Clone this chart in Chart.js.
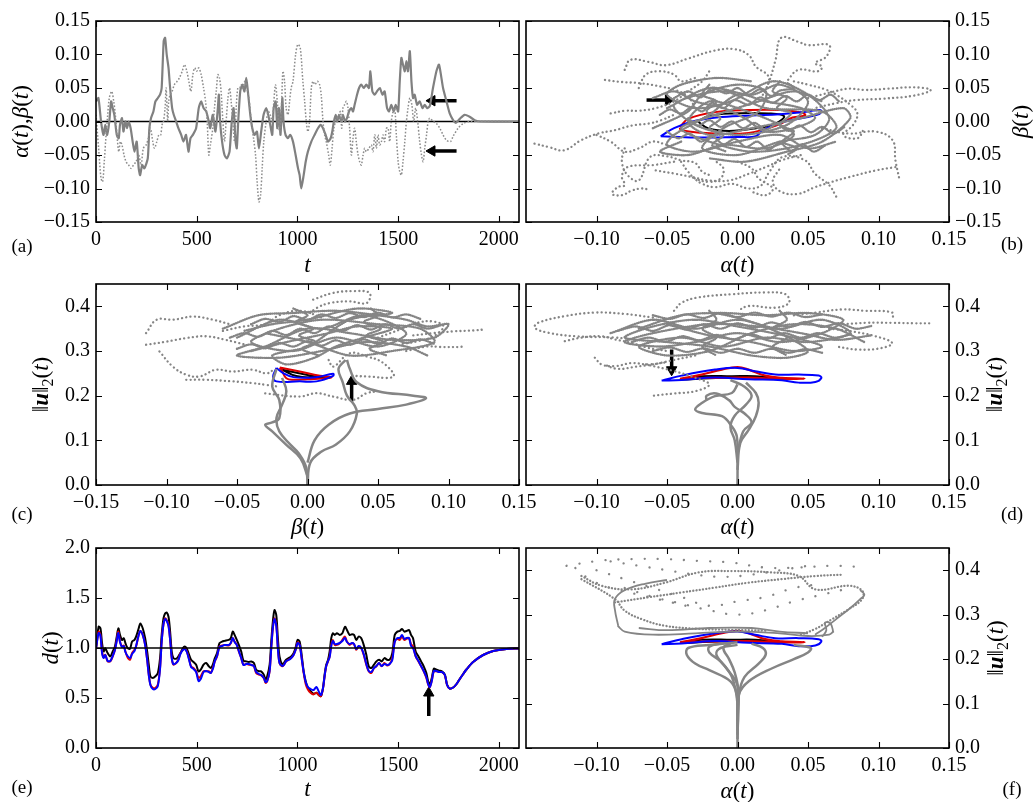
<!DOCTYPE html>
<html>
<head>
<meta charset="utf-8">
<script src="https://cdn.jsdelivr.net/npm/chart.js@4.4.1/dist/chart.umd.min.js"></script>
<style>
  html, body { margin: 0; padding: 0; background: #fff; }
  #wrap { position: relative; width: 1036px; height: 802px; }
  canvas { position: absolute; left: 0; top: 0; }
</style>
</head>
<body>
<div id="wrap">
  <canvas id="pa" width="1036" height="802"></canvas>
  <canvas id="pb" width="1036" height="802"></canvas>
  <canvas id="pc" width="1036" height="802"></canvas>
  <canvas id="pd" width="1036" height="802"></canvas>
  <canvas id="pe" width="1036" height="802"></canvas>
  <canvas id="pf" width="1036" height="802"></canvas>
</div>
<script>
// ---- tick values ----
const tTicks = [0, 500, 1000, 1500, 2000];
const abTicks = [-0.15, -0.10, -0.05, 0, 0.05, 0.10, 0.15];
const abTicksRight = [-0.10, -0.05, 0, 0.05, 0.10, 0.15];
const normTicks = [0, 0.1, 0.2, 0.3, 0.4];
const dTicks = [0, 0.5, 1.0, 1.5, 2.0];

// ---- (a) alpha(t), beta(t) ----
const tAlpha = [0,12,25,37,46,55,66,75,83,91,103,113,119,129,136,146,154,162,172,182,191,202,212,219,229,240,257,265,273,285,295,307,318,326,336,343,351,360,368,378,386,398,409,423,434,447,459,469,481,497,510,522,534,547,560,567,580,593,605,610,616,626,638,650,663,674,683,693,699,706,716,726,737,746,754,766,776,787,799,809,820,832,845,855,865,875,882,892,900,908,916,925,931,941,953,964,978,991,1003,1011,1019,1031,1041,1052,1069,1085,1102,1115,1127,1140,1152,1165,1173,1181,1190,1198,1206,1218,1226,1236,1246,1256,1268,1276,1284,1296,1306,1317,1329,1342,1355,1362,1372,1384,1395,1409,1422,1433,1445,1455,1466,1478,1488,1500,1508,1516,1524,1533,1541,1549,1558,1566,1574,1582,1594,1607,1621,1632,1644,1657,1673,1690,1703,1723,1740,1756,1773,1786,1806,1830,1855,1880,1910,2100];
const alphaVals = [0.03,0.035,0.0,-0.02,-0.005,-0.02,0.0,0.03,0.02,0.01,-0.02,-0.025,-0.005,0.005,-0.015,0.0,-0.01,0.0,-0.01,-0.03,-0.045,-0.03,-0.07,-0.08,-0.065,-0.07,-0.055,-0.01,0.005,0.015,0.03,0.035,0.04,0.05,0.12,0.125,0.1,0.08,0.05,0.02,0.01,0.0,-0.01,-0.02,-0.03,-0.02,-0.045,-0.025,-0.02,-0.01,0.02,0.03,0.02,0.015,0.0,-0.01,0.01,-0.015,0.02,0.04,0.0,-0.03,-0.05,-0.055,-0.045,0.0,0.02,-0.03,-0.04,0.0,0.045,0.055,0.045,0.065,0.045,0.01,-0.01,-0.02,-0.015,-0.04,-0.015,0.01,0.02,0.01,-0.005,-0.02,0.02,0.03,-0.01,0.02,-0.02,0.035,0.0,-0.02,-0.025,-0.02,-0.03,-0.05,-0.07,-0.08,-0.1,-0.08,-0.06,-0.045,-0.03,-0.02,-0.01,-0.005,-0.01,-0.02,-0.03,-0.025,-0.015,0.0,0.01,0.0,0.01,0.0,0.01,0.0,0.005,0.015,0.02,0.015,0.025,0.04,0.05,0.055,0.05,0.055,0.05,0.075,0.045,0.04,0.045,0.05,0.04,0.045,0.02,0.015,0.025,0.015,0.025,0.015,0.06,0.095,0.085,0.075,0.09,0.075,0.105,0.06,0.035,0.04,0.025,0.03,0.02,0.025,0.02,0.023,0.05,0.075,0.085,0.05,0.03,0.012,0.002,-0.002,0.004,0.01,0.007,0.002,0.0,0.0];
const tBeta = [0,13,25,33,41,50,58,66,78,88,96,104,113,121,129,139,149,162,174,186,199,212,224,235,249,260,270,282,290,302,312,321,328,335,343,348,356,361,368,378,389,403,414,428,439,451,461,471,481,490,500,510,522,534,544,552,560,568,580,588,597,605,613,621,630,638,646,655,663,671,679,688,696,704,713,721,729,739,749,759,771,782,792,800,809,817,825,833,845,855,865,875,883,891,900,911,921,928,936,944,953,961,969,978,991,1002,1014,1027,1036,1044,1052,1060,1069,1077,1087,1099,1110,1118,1127,1135,1143,1155,1163,1172,1181,1190,1198,1206,1213,1220,1226,1234,1243,1251,1259,1268,1276,1284,1292,1301,1309,1317,1326,1334,1342,1355,1367,1375,1384,1392,1400,1408,1417,1425,1433,1442,1450,1458,1466,1475,1483,1491,1500,1508,1516,1524,1533,1541,1549,1558,1568,1577,1587,1597,1607,1616,1624,1632,1641,1649,1657,1674,1690,1707,1723,1740,1760,1773,1798,1823,1856,2100];
const betaVals = [0.01,-0.04,-0.085,-0.09,-0.06,-0.02,0.01,0.035,0.045,0.03,0.01,-0.02,-0.045,-0.03,-0.035,-0.05,-0.06,-0.065,-0.07,-0.065,-0.06,-0.05,-0.065,-0.04,-0.035,-0.025,-0.01,-0.03,-0.04,-0.03,-0.02,-0.02,-0.005,0.0,0.02,0.05,0.0,0.03,0.04,0.045,0.055,0.06,0.065,0.075,0.085,0.075,0.06,0.045,0.07,0.08,0.075,0.08,0.07,0.05,0.03,0.0,-0.05,-0.035,-0.01,0.02,0.045,0.07,0.065,0.045,0.0,-0.03,0.0,0.035,0.05,0.03,0.0,-0.03,0.02,0.05,0.05,0.055,0.05,0.06,0.05,0.035,0.0,-0.025,-0.05,-0.09,-0.12,-0.11,-0.07,-0.03,0.0,0.015,0.01,0.0,0.03,0.055,0.03,-0.015,0.025,0.075,0.06,0.02,0.01,0.03,0.05,0.06,0.1,0.115,0.11,0.06,0.03,0.0,-0.015,0.0,0.05,0.06,0.055,0.06,0.055,0.04,0.0,-0.02,-0.03,-0.05,-0.065,-0.04,-0.01,0.0,0.005,0.01,0.015,-0.01,0.02,0.025,0.03,0.02,-0.01,-0.05,-0.025,-0.01,-0.03,-0.05,-0.06,-0.065,-0.05,-0.04,-0.045,-0.04,-0.035,-0.045,-0.02,-0.04,-0.02,-0.035,-0.03,-0.02,-0.03,-0.01,-0.01,-0.03,0.0,0.015,0.02,-0.02,-0.06,-0.075,-0.08,-0.06,-0.03,0.0,0.02,0.035,0.025,0.0,0.02,0.0,-0.03,-0.05,-0.06,-0.04,-0.02,0.0,0.005,0.0,-0.003,-0.01,-0.02,-0.028,-0.03,-0.022,-0.01,-0.003,0.0,0.0];
const aArrows = [[[1790, 0.031], [1668, 0.031]], [[1790, -0.044], [1668, -0.044]]];

// ---- (e) d(t) ----
const tD = [0,13,22,30,38,46,58,71,83,94,103,111,119,129,138,146,157,169,179,191,199,212,220,232,244,254,262,270,282,295,307,318,326,335,343,351,360,368,376,384,398,409,419,431,441,451,461,472,484,497,509,520,534,547,560,570,580,590,601,613,626,638,659,669,679,688,699,709,721,732,746,759,771,784,795,809,820,833,842,850,862,870,878,886,895,903,911,925,933,944,956,969,981,991,1001,1011,1022,1031,1041,1052,1065,1080,1094,1107,1117,1127,1135,1143,1152,1160,1168,1176,1185,1196,1210,1223,1236,1246,1259,1271,1281,1292,1304,1317,1329,1342,1354,1367,1380,1392,1405,1418,1432,1445,1458,1471,1483,1496,1508,1519,1531,1541,1554,1564,1574,1587,1601,1614,1627,1640,1649,1657,1667,1677,1690,1703,1717,1732,1743,1756,1773,1790,1806,1823,1839,1872,1922,1972,2038,2100];
const dBlue = [0.99,1.15,1.12,0.95,0.90,0.93,0.87,0.87,0.92,0.98,1.07,1.15,1.06,1.01,1.02,0.96,0.92,0.90,0.94,0.97,1.02,1.13,1.17,1.13,1.03,0.88,0.73,0.63,0.59,0.59,0.62,0.79,1.06,1.24,1.29,1.27,1.22,1.08,0.90,0.84,0.85,0.88,0.94,0.98,0.99,0.96,0.89,0.81,0.79,0.76,0.67,0.69,0.76,0.77,0.76,0.75,0.79,0.87,0.92,1.01,1.02,1.03,1.03,1.05,1.10,1.06,1.03,0.97,0.90,0.83,0.84,0.84,0.83,0.82,0.76,0.74,0.73,0.70,0.66,0.67,0.77,1.00,1.20,1.29,1.22,0.99,0.85,0.82,0.83,0.87,0.88,0.90,0.93,0.98,1.05,1.03,0.88,0.76,0.66,0.61,0.59,0.58,0.61,0.56,0.53,0.60,0.72,0.82,0.87,0.91,1.02,1.07,1.04,1.04,1.05,1.07,1.10,1.06,1.04,1.05,1.04,0.99,1.02,1.00,0.94,0.84,0.77,0.76,0.80,0.82,0.85,0.82,0.84,0.83,0.84,0.88,1.06,1.10,1.10,1.13,1.09,1.10,1.10,1.02,1.00,0.92,0.87,0.82,0.77,0.71,0.64,0.61,0.67,0.77,0.77,0.76,0.76,0.73,0.63,0.595,0.605,0.64,0.69,0.74,0.785,0.86,0.93,0.97,0.99,0.995];
const dRed = [0.99,1.164,1.131,0.965,0.906,0.932,0.866,0.866,0.916,0.982,1.081,1.164,1.064,1.015,1.025,0.965,0.906,0.883,0.949,0.982,1.015,1.131,1.170,1.131,1.031,0.883,0.734,0.635,0.602,0.602,0.635,0.800,1.064,1.236,1.296,1.279,1.230,1.081,0.899,0.833,0.850,0.883,0.949,0.982,0.998,0.965,0.899,0.817,0.800,0.767,0.701,0.717,0.767,0.767,0.767,0.750,0.800,0.866,0.916,1.015,1.025,1.031,1.025,1.048,1.098,1.064,1.031,0.965,0.899,0.833,0.840,0.833,0.833,0.817,0.750,0.734,0.727,0.701,0.651,0.668,0.767,0.998,1.197,1.296,1.230,0.998,0.850,0.817,0.833,0.866,0.883,0.899,0.932,0.982,1.058,1.031,0.883,0.750,0.641,0.585,0.552,0.536,0.552,0.529,0.519,0.595,0.717,0.817,0.866,0.916,1.031,1.081,1.031,1.031,1.048,1.081,1.114,1.064,1.031,1.048,1.038,0.982,1.015,0.998,0.932,0.833,0.767,0.750,0.800,0.817,0.850,0.817,0.850,0.826,0.840,0.899,1.064,1.091,1.081,1.114,1.081,1.091,1.098,1.038,1.015,0.916,0.866,0.817,0.767,0.701,0.635,0.608,0.674,0.767,0.767,0.760,0.760,0.727,0.628,0.595,0.605,0.64,0.69,0.74,0.785,0.86,0.93,0.97,0.99,0.995];
const dBlack = [1.0,1.213,1.197,1.048,0.965,0.998,0.949,0.916,0.965,1.015,1.114,1.197,1.131,1.081,1.098,1.048,0.998,0.992,1.064,1.081,1.114,1.197,1.246,1.197,1.098,0.965,0.833,0.717,0.701,0.717,0.750,0.899,1.131,1.296,1.345,1.355,1.312,1.164,0.965,0.899,0.893,0.916,0.949,0.998,1.015,0.992,0.939,0.883,0.860,0.833,0.767,0.783,0.833,0.850,0.817,0.800,0.833,0.899,0.949,1.048,1.064,1.071,1.081,1.098,1.164,1.131,1.081,1.031,0.965,0.873,0.866,0.860,0.866,0.850,0.783,0.767,0.767,0.734,0.684,0.717,0.833,1.064,1.263,1.379,1.329,1.098,0.916,0.833,0.850,0.883,0.899,0.916,0.949,1.005,1.081,1.064,0.916,0.767,0.668,0.602,0.569,0.542,0.552,0.529,0.519,0.602,0.734,0.833,0.883,0.965,1.098,1.147,1.131,1.147,1.131,1.147,1.213,1.180,1.131,1.137,1.131,1.081,1.114,1.098,1.031,0.932,0.817,0.800,0.833,0.866,0.883,0.866,0.899,0.883,0.883,0.949,1.131,1.164,1.170,1.190,1.164,1.170,1.180,1.131,1.098,0.965,0.916,0.866,0.817,0.750,0.668,0.635,0.701,0.793,0.783,0.774,0.767,0.734,0.635,0.595,0.605,0.64,0.69,0.74,0.785,0.86,0.93,0.97,0.99,0.995];
const eArrow = [[1652, 0.32], [1652, 0.55]];

// ---- (b) alpha vs beta ----
const bDots = [
  [[-0.080,0.077],[-0.076,0.092],[-0.063,0.089],[-0.051,0.084],[-0.035,0.094],[-0.016,0.106],[-0.002,0.108],[0.008,0.099],[0.013,0.082],[0.022,0.067],[0.02,0.045]],
  [[0.018,0.04],[0.022,0.057],[0.027,0.092],[0.031,0.125],[0.043,0.119],[0.05,0.114],[0.065,0.114],[0.063,0.097],[0.055,0.087],[0.06,0.082],[0.057,0.075],[0.043,0.077],[0.035,0.06]],
  [[0.05,0.035],[0.067,0.044],[0.079,0.049],[0.091,0.047],[0.107,0.049],[0.126,0.051],[0.137,0.047],[0.126,0.039],[0.103,0.034],[0.084,0.032],[0.069,0.027],[0.055,0.02]],
  [[0.06,-0.01],[0.079,-0.018],[0.098,-0.015],[0.110,-0.028],[0.112,-0.058],[0.115,-0.088]],
  [[0.112,-0.068],[0.098,-0.073],[0.079,-0.083],[0.067,-0.09],[0.055,-0.098],[0.043,-0.108],[0.031,-0.105],[0.025,-0.09],[0.03,-0.07]],
  [[0.07,-0.112],[0.065,-0.095],[0.055,-0.078],[0.048,-0.058],[0.032,-0.053],[0.022,-0.077],[0.017,-0.095],[0.008,-0.1],[-0.004,-0.093],[-0.016,-0.098],[-0.025,-0.093],[-0.032,-0.083]],
  [[-0.045,-0.06],[-0.06,-0.065],[-0.078,-0.068],[-0.082,-0.082],[-0.08,-0.095],[-0.085,-0.098],[-0.089,-0.108],[-0.082,-0.11],[-0.075,-0.103],[-0.068,-0.1],[-0.062,-0.102]],
  [[-0.144,-0.033],[-0.134,-0.038],[-0.123,-0.043],[-0.111,-0.028],[-0.099,-0.018],[-0.087,-0.013],[-0.075,-0.006],[-0.063,-0.003],[-0.054,0.002],[-0.045,0.01]],
  [[-0.094,0.062],[-0.082,0.059],[-0.068,0.057],[-0.054,0.052],[-0.044,0.047],[-0.035,0.037],[-0.03,0.02]],
  [[-0.09,0.012],[-0.08,0.016],[-0.07,0.016],[-0.058,0.02],[-0.045,0.03],[-0.035,0.045],[-0.025,0.06],[-0.02,0.075]],
  [[-0.08,-0.04],[-0.082,-0.06],[-0.078,-0.08],[-0.07,-0.088],[-0.062,-0.053],[-0.05,-0.052],[-0.04,-0.058],[-0.03,-0.062],[-0.025,-0.075],[-0.02,-0.08]],
  [[-0.058,-0.073],[-0.044,-0.078],[-0.032,-0.083],[-0.02,-0.088],[-0.006,-0.088],[0.008,-0.078],[0.02,-0.068],[0.031,-0.058],[0.045,-0.05]],
  [[0.04,0.06],[0.05,0.055],[0.062,0.048],[0.07,0.04],[0.08,0.025],[0.085,0.012],[0.082,-0.005],[0.075,-0.02],[0.085,-0.025],[0.09,-0.01]],
  [[-0.1,-0.02],[-0.09,-0.03],[-0.08,-0.045],[-0.07,-0.04],[-0.06,-0.03],[-0.05,-0.035]],
  [[-0.04,-0.06],[-0.035,-0.075],[-0.03,-0.085],[-0.02,-0.09],[-0.012,-0.085],[-0.01,-0.07],[-0.015,-0.06]],
  [[0.0,-0.06],[0.01,-0.07],[0.015,-0.085],[0.025,-0.1],[0.02,-0.11],[0.01,-0.105]],
  [[-0.07,0.05],[-0.065,0.07],[-0.055,0.075],[-0.045,0.07],[-0.04,0.06],[-0.03,0.065]]
];
const bCore = [
  [[-0.05,0.02],[-0.02,0.05],[0.01,0.04],[0.03,0.055],[0.05,0.03],[0.035,-0.005],[0.0,-0.02],[-0.03,-0.005],[-0.045,0.025],[-0.01,0.045],[0.02,0.02],[0.06,0.015],[0.07,-0.01],[0.045,-0.035],[0.01,-0.045],[-0.02,-0.03],[-0.04,-0.01],[-0.015,0.01],[0.015,0.03],[0.04,0.045],[0.06,0.03]],
  [[-0.06,-0.01],[-0.035,0.015],[-0.025,0.04],[0.0,0.055],[0.02,0.045],[0.015,0.015],[-0.01,-0.01],[-0.025,-0.04],[0.0,-0.05],[0.03,-0.03],[0.055,-0.02],[0.065,0.005],[0.05,0.04],[0.025,0.06],[-0.005,0.03],[-0.03,0.02],[-0.05,0.04],[-0.04,0.055],[-0.015,0.065],[0.01,0.06]],
  [[-0.04,-0.03],[-0.055,-0.045],[-0.035,-0.05],[-0.01,-0.035],[0.02,-0.04],[0.04,-0.02],[0.025,0.0],[0.0,0.02],[-0.02,0.03],[-0.035,0.0],[-0.02,-0.02],[0.01,-0.01],[0.045,0.005],[0.075,0.02],[0.08,0.005],[0.06,-0.03],[0.035,-0.045],[0.005,-0.06],[-0.02,-0.055]],
  [[-0.06,0.035],[-0.045,0.045],[-0.03,0.03],[-0.01,0.02],[0.005,0.005],[0.02,-0.015],[0.04,-0.01],[0.055,0.005],[0.045,0.02],[0.02,0.03],[0.0,0.04],[-0.02,0.01],[-0.045,-0.02],[-0.05,-0.035],[-0.03,-0.045],[0.0,-0.03],[0.03,-0.02],[0.05,-0.04],[0.07,-0.03]],
  [[-0.055,0.01],[-0.048,0.018],[-0.04,0.012],[-0.032,0.022],[-0.025,0.015],[-0.018,0.028],[-0.01,0.02],[-0.002,0.032],[0.008,0.025],[0.016,0.036],[0.025,0.028],[0.034,0.038],[0.042,0.03],[0.05,0.04],[0.058,0.032],[0.066,0.04],[0.072,0.03]],
  [[-0.05,-0.015],[-0.042,-0.025],[-0.034,-0.018],[-0.026,-0.03],[-0.018,-0.022],[-0.01,-0.034],[-0.002,-0.026],[0.006,-0.038],[0.014,-0.03],[0.022,-0.042],[0.03,-0.032],[0.038,-0.044],[0.046,-0.034],[0.054,-0.045],[0.062,-0.036]],
  [[-0.045,0.035],[-0.035,0.045],[-0.026,0.036],[-0.018,0.05],[-0.008,0.042],[0.0,0.05],[0.008,0.04],[0.016,0.048],[0.024,0.038],[0.03,0.046],[0.04,0.05],[0.035,0.058]],
  [[-0.035,0.005],[-0.028,-0.006],[-0.02,0.002],[-0.012,-0.008],[-0.004,0.0],[0.004,-0.01],[0.012,-0.002],[0.02,-0.012],[0.028,-0.004],[0.036,-0.014],[0.044,-0.006],[0.052,-0.016],[0.06,-0.008],[0.068,-0.018],[0.076,-0.008]],
  [[-0.02,0.055],[-0.025,0.04],[-0.015,0.03],[-0.022,0.015],[-0.012,0.005],[-0.02,-0.01],[-0.01,-0.02],[-0.018,-0.035],[-0.008,-0.045]],
  [[0.03,0.06],[0.025,0.045],[0.035,0.035],[0.028,0.02],[0.038,0.012],[0.03,-0.005],[0.04,-0.015],[0.032,-0.03],[0.042,-0.04],[0.035,-0.05]]
];
const bBlue = [[-0.0545,-0.022],[-0.045,-0.01],[-0.032,0.0],[-0.015,0.006],[0.01,0.009],[0.03,0.011],[0.05,0.015],[0.059,0.017],[0.058,0.011],[0.045,0.005],[0.03,-0.002],[0.018,-0.013],[0.013,-0.022],[0.0,-0.023],[-0.03,-0.024],[-0.0545,-0.022]];
const bRed = [[-0.041,-0.009],[-0.035,0.004],[-0.016,0.014],[0.008,0.017],[0.031,0.017],[0.046,0.013],[0.048,0.009],[0.039,0.006],[0.029,-0.005],[0.008,-0.017],[-0.016,-0.018],[-0.04,-0.013],[-0.041,-0.009]];
const bBlack = [[-0.028,0.0],[-0.021,0.008],[-0.004,0.012],[0.022,0.012],[0.033,0.008],[0.027,-0.003],[0.013,-0.010],[-0.006,-0.014],[-0.021,-0.010],[-0.028,0.0]];
const bArrow = [[-0.0645, 0.032], [-0.049, 0.032]];

// ---- (c) beta vs ||u|| ----
const cDots = [
  [[-0.1145,0.34],[-0.107,0.37],[-0.0955,0.37],[-0.081,0.377],[-0.067,0.37],[-0.055,0.36]],
  [[-0.1145,0.314],[-0.100,0.321],[-0.086,0.329],[-0.072,0.333],[-0.058,0.325],[-0.045,0.315]],
  [[-0.105,0.299],[-0.0955,0.265],[-0.086,0.247],[-0.0765,0.243],[-0.065,0.258],[-0.053,0.254],[-0.039,0.258],[-0.029,0.25],[-0.024,0.258]],
  [[-0.086,0.2355],[-0.072,0.2355],[-0.053,0.232],[-0.039,0.228],[-0.029,0.224],[-0.02,0.22]],
  [[0.004,0.415],[0.018,0.43],[0.0325,0.434],[0.044,0.43],[0.042,0.4075],[0.030,0.411],[0.016,0.4075],[0.0064,0.396],[0.0,0.38]],
  [[0.05,0.33],[0.0656,0.348],[0.0775,0.363],[0.0893,0.366],[0.0964,0.355],[0.0893,0.333],[0.0775,0.3215],[0.065,0.315]],
  [[0.075,0.335],[0.0893,0.34],[0.1036,0.344],[0.1178,0.346],[0.125,0.348]],
  [[0.07,0.3],[0.0846,0.31],[0.0941,0.309],[0.108,0.309],[0.11,0.31]],
  [[0.015,0.28],[0.0182,0.265],[0.0301,0.295],[0.0419,0.288],[0.0538,0.273],[0.0609,0.243],[0.0419,0.243],[0.03,0.245]],
  [[-0.03,0.205],[-0.0055,0.198],[0.0064,0.2056],[0.0182,0.198],[0.0325,0.1907],[0.0419,0.2056],[0.05,0.21]],
  [[-0.06,0.345],[-0.045,0.355],[-0.03,0.36],[-0.02,0.38],[-0.005,0.39],[0.01,0.375]]
];
const cCore = [
  [[-0.05,0.33],[-0.02,0.37],[0.01,0.35],[0.04,0.38],[0.07,0.34],[0.05,0.31],[0.02,0.33],[-0.01,0.3],[-0.04,0.32],[-0.02,0.35],[0.01,0.37],[0.05,0.36],[0.08,0.35],[0.09,0.32],[0.06,0.3],[0.03,0.29],[0.0,0.32],[-0.03,0.34]],
  [[-0.06,0.35],[-0.035,0.38],[-0.01,0.385],[0.02,0.39],[0.05,0.38],[0.07,0.37],[0.085,0.355],[0.1,0.36],[0.09,0.33],[0.06,0.325],[0.03,0.34],[0.0,0.35],[-0.03,0.31],[-0.05,0.29],[-0.02,0.285],[0.01,0.3],[0.04,0.32],[0.07,0.31],[0.085,0.29]],
  [[-0.04,0.3],[-0.015,0.32],[0.015,0.34],[0.035,0.355],[0.06,0.35],[0.04,0.33],[0.02,0.31],[0.005,0.285],[-0.015,0.27],[-0.025,0.29],[0.0,0.31],[0.03,0.37],[0.06,0.385],[0.035,0.395],[0.0,0.37],[-0.025,0.36],[-0.045,0.345]],
  [[-0.055,0.33],[-0.045,0.34],[-0.035,0.332],[-0.025,0.345],[-0.015,0.336],[-0.005,0.35],[0.005,0.34],[0.015,0.355],[0.025,0.345],[0.035,0.358],[0.045,0.348],[0.055,0.36],[0.065,0.35],[0.075,0.36],[0.085,0.35],[0.095,0.358]],
  [[-0.04,0.36],[-0.03,0.372],[-0.02,0.365],[-0.01,0.378],[0.0,0.37],[0.01,0.382],[0.02,0.374],[0.03,0.385],[0.04,0.376],[0.05,0.386],[0.06,0.375],[0.07,0.382],[0.08,0.372]],
  [[-0.05,0.305],[-0.04,0.315],[-0.03,0.306],[-0.02,0.318],[-0.01,0.31],[0.0,0.322],[0.01,0.312],[0.02,0.324],[0.03,0.314],[0.04,0.326],[0.05,0.316],[0.06,0.328],[0.07,0.318],[0.08,0.326],[0.09,0.316]],
  [[-0.01,0.395],[0.0,0.38],[-0.008,0.365],[0.004,0.35],[-0.006,0.335],[0.006,0.32],[-0.004,0.305],[0.008,0.29]],
  [[0.045,0.395],[0.05,0.38],[0.04,0.365],[0.052,0.35],[0.042,0.335],[0.054,0.32],[0.044,0.305],[0.056,0.29]]
];
const cLines = [
  [[0,0],[-0.001,0.04],[-0.006,0.07],[-0.012,0.09],[-0.02,0.12],[-0.022,0.15],[-0.018,0.18],[-0.015,0.21],[-0.018,0.24]],
  [[0,0.02],[-0.005,0.06],[-0.015,0.09],[-0.025,0.12],[-0.03,0.135],[-0.025,0.14],[-0.02,0.15],[-0.02,0.19],[-0.025,0.22],[-0.022,0.26]],
  [[0,0],[0.002,0.05],[0.01,0.075],[0.02,0.09],[0.03,0.12],[0.035,0.16],[0.033,0.18],[0.028,0.2],[0.025,0.23],[0.022,0.26],[0.027,0.28]],
  [[0,0.05],[0.005,0.1],[0.015,0.135],[0.03,0.16],[0.05,0.17],[0.07,0.18],[0.084,0.194],[0.075,0.2],[0.05,0.21],[0.035,0.23],[0.03,0.26],[0.028,0.28]]
];
const cBlue = [[-0.022,0.262],[-0.0244,0.243],[-0.022,0.232],[-0.0055,0.232],[0.0064,0.232],[0.0182,0.2445],[0.0182,0.249],[0.006,0.2415],[-0.01,0.2415],[-0.017,0.25],[-0.022,0.262]];
const cRed = [[-0.0197,0.263],[-0.0055,0.254],[0.0088,0.2445],[0.017,0.2415],[0.014,0.239],[0.0,0.237],[-0.01,0.2355],[-0.015,0.239],[-0.0185,0.258],[-0.0197,0.263]];
const cBlack = [[-0.018,0.258],[-0.006,0.25],[0.008,0.242],[0.015,0.24],[0.005,0.24],[-0.008,0.244],[-0.018,0.258]];
const cArrow = [[0.0313, 0.187], [0.0313, 0.232]];

// ---- (d) alpha vs ||u|| ----
const dDots = [
  [[-0.06,0.375],[-0.08,0.383],[-0.101,0.386],[-0.1225,0.378],[-0.1415,0.363],[-0.1438,0.352],[-0.1343,0.341],[-0.1154,0.333],[-0.087,0.33],[-0.07,0.325]],
  [[-0.1225,0.322],[-0.1107,0.33],[-0.0964,0.333],[-0.087,0.326],[-0.0751,0.318],[-0.0633,0.307],[-0.05,0.3]],
  [[-0.1012,0.285],[-0.0964,0.27],[-0.087,0.266],[-0.0751,0.273],[-0.0633,0.27],[-0.05,0.275]],
  [[-0.045,0.39],[-0.0396,0.408],[-0.0277,0.42],[-0.004,0.427],[0.0197,0.431],[0.0341,0.427],[0.0365,0.408],[0.027,0.397],[0.0078,0.4007],[0.0,0.39]],
  [[0.04,0.38],[0.0552,0.386],[0.0742,0.393],[0.0908,0.39],[0.1097,0.386],[0.11,0.37]],
  [[0.075,0.36],[0.0908,0.363],[0.1097,0.363],[0.1263,0.362],[0.137,0.362]],
  [[0.065,0.35],[0.0789,0.345],[0.0979,0.333],[0.1097,0.318],[0.1026,0.307],[0.086,0.303],[0.07,0.31]],
  [[-0.03,0.29],[-0.045,0.28],[-0.06,0.27],[-0.072,0.265],[-0.085,0.26],[-0.095,0.27]],
  [[-0.065,0.27],[-0.045,0.255],[-0.03,0.24],[-0.02,0.225],[-0.03,0.21],[-0.045,0.205],[-0.06,0.2]]
];
const dCore = [
  [[-0.09,0.34],[-0.06,0.37],[-0.03,0.35],[0.0,0.37],[0.03,0.35],[0.06,0.37],[0.08,0.34],[0.05,0.32],[0.02,0.33],[-0.01,0.31],[-0.04,0.33],[-0.07,0.31],[-0.05,0.29],[-0.02,0.3],[0.01,0.34],[0.04,0.36],[0.07,0.35],[0.09,0.32]],
  [[-0.07,0.35],[-0.04,0.38],[-0.01,0.385],[0.02,0.38],[0.05,0.385],[0.075,0.37],[0.06,0.34],[0.03,0.32],[0.0,0.34],[-0.03,0.32],[-0.055,0.31],[-0.08,0.32],[-0.06,0.34],[-0.02,0.36],[0.015,0.355],[0.045,0.34],[0.07,0.325],[0.095,0.335]],
  [[-0.05,0.36],[-0.02,0.335],[0.01,0.32],[0.04,0.3],[0.06,0.31],[0.04,0.33],[0.0,0.355],[-0.03,0.37],[-0.06,0.355],[-0.08,0.33],[-0.05,0.32],[-0.02,0.31],[0.01,0.29],[0.035,0.285],[0.05,0.3],[0.03,0.34],[0.005,0.37],[-0.015,0.385]],
  [[-0.085,0.345],[-0.072,0.355],[-0.06,0.345],[-0.048,0.358],[-0.036,0.348],[-0.024,0.36],[-0.012,0.35],[0.0,0.362],[0.012,0.352],[0.024,0.364],[0.036,0.354],[0.048,0.365],[0.06,0.354],[0.072,0.362],[0.084,0.35],[0.095,0.356]],
  [[-0.075,0.32],[-0.063,0.33],[-0.051,0.321],[-0.039,0.333],[-0.027,0.324],[-0.015,0.336],[-0.003,0.326],[0.009,0.338],[0.021,0.328],[0.033,0.34],[0.045,0.33],[0.057,0.34],[0.069,0.33],[0.081,0.338]],
  [[-0.06,0.38],[-0.048,0.372],[-0.036,0.382],[-0.024,0.374],[-0.012,0.385],[0.0,0.376],[0.012,0.386],[0.024,0.377],[0.036,0.386],[0.048,0.376],[0.06,0.382]],
  [[-0.06,0.3],[-0.048,0.308],[-0.036,0.298],[-0.024,0.306],[-0.012,0.296],[0.0,0.305],[0.012,0.296],[0.024,0.305],[0.036,0.296],[0.048,0.304],[0.06,0.296]],
  [[-0.02,0.39],[-0.015,0.37],[-0.025,0.35],[-0.015,0.33],[-0.025,0.31],[-0.015,0.29]],
  [[0.03,0.39],[0.035,0.37],[0.025,0.35],[0.035,0.33],[0.025,0.31],[0.035,0.29]]
];
const dLines = [
  [[0,0],[0,0.064],[-0.0005,0.109],[-0.004,0.131],[-0.011,0.154],[-0.025,0.161],[-0.03,0.169],[-0.025,0.184],[-0.016,0.199],[-0.004,0.206],[0.0,0.225]],
  [[0,0.034],[0.002,0.094],[0.008,0.124],[0.013,0.154],[0.015,0.184],[0.013,0.206],[0.006,0.229]],
  [[0,0.05],[-0.002,0.1],[-0.005,0.13],[-0.002,0.155],[0.006,0.18],[0.01,0.2],[0.005,0.22],[-0.005,0.235]],
  [[0,0.07],[0.004,0.12],[0.01,0.14],[0.005,0.16],[-0.002,0.175],[-0.006,0.19],[-0.015,0.205],[-0.022,0.2],[-0.022,0.19]]
];
const dLoopBlue = [[-0.0538,0.2337],[-0.0396,0.2449],[-0.0159,0.2584],[0.0,0.2622],[0.0126,0.2547],[0.0268,0.2472],[0.0434,0.2472],[0.0576,0.2449],[0.0595,0.2397],[0.0552,0.2307],[0.0434,0.2292],[0.0315,0.2345],[0.0078,0.2367],[-0.0159,0.2405],[-0.0396,0.2352],[-0.0538,0.2337]];
const dLoopRed = [[-0.0408,0.2375],[-0.0254,0.2472],[-0.0111,0.2584],[0.0,0.2637],[0.0078,0.2584],[0.0197,0.2449],[0.0315,0.2397],[0.0476,0.2382],[0.0315,0.2375],[0.0078,0.2405],[-0.0254,0.2395],[-0.0408,0.2375]];
const dLoopBlack = [[-0.0408,0.236],[-0.0254,0.2435],[-0.004,0.2435],[0.0126,0.2435],[0.0327,0.2375],[0.0126,0.241],[-0.0111,0.24],[-0.0408,0.236]];
const dArrow = [[-0.0467, 0.3034], [-0.0467, 0.258]];

// ---- (f) alpha vs ||u|| (second set) ----
const fSparse = [
  [[-0.1213,0.41],[-0.0988,0.421],[-0.0751,0.425],[-0.0514,0.425],[-0.0277,0.421],[-0.004,0.417],[0.0197,0.406],[0.0434,0.406],[0.0671,0.41],[0.0825,0.408]],
  [[-0.1,0.4],[-0.08,0.38],[-0.06,0.36],[-0.04,0.34],[-0.02,0.32],[0.0,0.33],[0.02,0.34],[0.04,0.36],[0.06,0.37]],
  [[-0.115,0.405],[-0.105,0.38],[-0.09,0.36],[-0.07,0.345],[-0.05,0.33],[-0.03,0.315]],
  [[-0.09,0.42],[-0.07,0.41],[-0.05,0.4],[-0.03,0.39],[-0.01,0.385],[0.01,0.39],[0.03,0.4],[0.05,0.41]],
  [[-0.08,0.36],[-0.06,0.34],[-0.04,0.325],[-0.02,0.31],[0.0,0.3],[0.02,0.31],[0.04,0.33],[0.06,0.345],[0.08,0.36]]
];
const fDots = [
  [[-0.1107,0.387],[-0.0964,0.365],[-0.0751,0.357],[-0.0514,0.372],[-0.0277,0.395],[-0.004,0.398],[0.0244,0.395],[0.0434,0.387],[0.0552,0.357],[0.0789,0.365],[0.0884,0.354],[0.0884,0.335],[0.0789,0.3125],[0.0671,0.29],[0.0552,0.268],[0.0434,0.253]],
  [[-0.1107,0.38],[-0.087,0.335],[-0.08,0.309],[-0.068,0.29],[-0.0514,0.275],[-0.0277,0.268],[-0.004,0.266],[0.0197,0.264]],
  [[-0.087,0.3275],[-0.0633,0.339],[-0.0396,0.35],[-0.0159,0.361],[0.0078,0.372],[0.0315,0.38],[0.0552,0.387],[0.075,0.39]]
];
const fBands = [
  [[-0.085,0.275],[-0.08,0.262],[-0.06,0.255],[-0.03,0.258],[0.0,0.262],[0.03,0.258],[0.05,0.252],[0.065,0.255],[0.068,0.262]],
  [[-0.0846,0.275],[-0.0869,0.31],[-0.087,0.335],[-0.08,0.355],[-0.065,0.37],[-0.05,0.378]],
  [[0.055,0.255],[0.062,0.27],[0.07,0.29],[0.08,0.315],[0.087,0.335],[0.09,0.345],[0.087,0.355]],
  [[0.06,0.25],[0.063,0.265],[0.062,0.282],[0.066,0.28],[0.068,0.26]],
  [[-0.07,0.27],[-0.05,0.265],[-0.02,0.27],[0.01,0.27],[0.03,0.262],[0.05,0.258]]
];
const fLines = [
  [[0,0],[0,0.08],[-0.0005,0.12],[-0.005,0.15],[-0.02,0.175],[-0.03,0.19],[-0.036,0.21],[-0.035,0.225],[-0.02,0.232],[0,0.238]],
  [[0,0.02],[0,0.1],[-0.004,0.16],[-0.012,0.195],[-0.02,0.215],[-0.02,0.228],[-0.01,0.236]],
  [[0,0.03],[0.0005,0.13],[-0.002,0.17],[-0.006,0.2],[-0.01,0.225],[-0.005,0.235]],
  [[0,0.04],[0.001,0.12],[0.005,0.16],[0.015,0.19],[0.02,0.21],[0.018,0.225],[0.01,0.235]],
  [[0,0.05],[0.001,0.12],[0.008,0.15],[0.025,0.18],[0.04,0.2],[0.05,0.215],[0.052,0.225],[0.04,0.232]],
  [[0,0.06],[0,0.14],[-0.008,0.18],[-0.015,0.21],[-0.012,0.225],[0,0.232]]
];

// ---------------------------------------------------------------
const GRAY = '#858585';
const SERIF = '"Liberation Serif", "DejaVu Serif", serif';
const P = arr => arr.map(([x, y]) => ({x, y}));
const series = (ts, vs) => ts.map((t, i) => ({x: t, y: vs[i]}));

const dotted = (arr, gap = 4.2, w = 2.3, tension = 0.4) => ({data: P(arr), showLine: true, borderColor: GRAY,
  borderWidth: w, borderDash: [0.1, gap], borderCapStyle: 'round', pointRadius: 0, tension});
const solid = (arr, color = GRAY, w = 2.5, tension = 0.4) => ({data: P(arr), showLine: true,
  borderColor: color, borderWidth: w, pointRadius: 0, tension});
const arrow = (arr, rot) => ({data: P(arr), showLine: true, borderColor: '#000', borderWidth: 3.5,
  pointRadius: [0, 6], pointStyle: 'triangle', pointRotation: rot, pointBackgroundColor: '#000',
  pointBorderColor: '#000', pointBorderWidth: 1, tension: 0});
const hline = (y, x0, x1, w = 1.6) => ({data: [{x: x0, y}, {x: x1, y}], showLine: true,
  borderColor: '#000', borderWidth: w, pointRadius: 0});

const fmt2 = v => (Math.abs(v) < 1e-9 ? 0 : v).toFixed(2).replace('-', '\u2212');
const fmt1 = v => v.toFixed(1);
const fmt0 = v => String(Math.round(v));

function axis(pos, min, max, ticks, fmt) {
  return {
    type: 'linear', position: pos, min, max,
    afterBuildTicks: s => { s.ticks = ticks.map(v => ({value: v})); },
    afterFit: s => {
      if (pos === 'bottom') s.height = 30;
      else s.width = pos === 'left' ? 96 : 87;
    },
    grid: {display: false, drawTicks: false},
    border: {display: false},
    ticks: {padding: 6, color: '#000', font: {family: SERIF, size: 20}, callback: fmt,
            maxRotation: 0, autoSkip: false}
  };
}

// rich text label: pieces of [text, style]
function drawRich(ctx, pieces, cx, cy, rot, size = 23) {
  const font = s => s === 'i' ? `italic ${size}px ${SERIF}` :
    s === 'bi' ? `italic bold ${size}px ${SERIF}` :
    s === 'sub' ? `${Math.round(size * 0.7)}px ${SERIF}` : `${size}px ${SERIF}`;
  ctx.save();
  ctx.translate(cx, cy);
  ctx.rotate(rot);
  ctx.textBaseline = 'middle';
  ctx.textAlign = 'left';
  ctx.fillStyle = '#000';
  let w = 0;
  pieces.forEach(([t, s]) => { ctx.font = font(s); w += ctx.measureText(t).width; });
  let px = -w / 2;
  pieces.forEach(([t, s]) => {
    ctx.font = font(s);
    ctx.fillText(t, px, s === 'sub' ? size * 0.28 : 0);
    px += ctx.measureText(t).width;
  });
  ctx.restore();
}

const L_T = [['t', 'i']];
const L_ALPHA = [['\u03b1', 'i'], ['(', ''], ['t', 'i'], [')', '']];
const L_BETA = [['\u03b2', 'i'], ['(', ''], ['t', 'i'], [')', '']];
const L_AB = [['\u03b1', 'i'], ['(', ''], ['t', 'i'], [')', ''], [',', ''], ['\u03b2', 'i'], ['(', ''], ['t', 'i'], [')', '']];
const L_NORM = [['\u2016', ''], ['u', 'bi'], ['\u2016', ''], ['2', 'sub'], ['(', ''], ['t', 'i'], [')', '']];
const L_D = [['d', 'i'], ['(', ''], ['t', 'i'], [')', '']];

const frame = {
  id: 'frame',
  afterDatasetsDraw(chart, args, o) {
    const {ctx, chartArea: a, scales: {x, y}} = chart;
    ctx.save();
    ctx.strokeStyle = '#000';
    ctx.lineWidth = 1.1;
    ctx.beginPath();
    x.ticks.forEach(t => {
      const p = Math.round(x.getPixelForValue(t.value)) + 0.5;
      ctx.moveTo(p, a.bottom); ctx.lineTo(p, a.bottom - 6);
      ctx.moveTo(p, a.top); ctx.lineTo(p, a.top + 6);
    });
    y.ticks.forEach(t => {
      const p = Math.round(y.getPixelForValue(t.value)) + 0.5;
      ctx.moveTo(a.left, p); ctx.lineTo(a.left + 6, p);
      ctx.moveTo(a.right, p); ctx.lineTo(a.right - 6, p);
    });
    ctx.stroke();
    ctx.lineWidth = 1.6;
    ctx.strokeRect(a.left, a.top, a.right - a.left, a.bottom - a.top);
    drawRich(ctx, o.xTitle, (a.left + a.right) / 2, o.xTitleY, 0);
    drawRich(ctx, o.yTitle, o.yTitleX, (a.top + a.bottom) / 2, -Math.PI / 2);
    ctx.font = `19px ${SERIF}`;
    ctx.fillStyle = '#000';
    ctx.textAlign = 'center';
    ctx.textBaseline = 'middle';
    ctx.fillText(o.letter, o.letterX, o.letterY);
    ctx.restore();
  }
};

function panel(id, pad, xs, ys, datasets, fr) {
  return new Chart(document.getElementById(id), {
    type: 'scatter',
    data: {datasets},
    options: {
      responsive: false, animation: false, devicePixelRatio: 1, events: [],
      layout: {padding: pad},
      plugins: {legend: {display: false}, tooltip: {enabled: false}, frame: fr},
      scales: {x: xs, y: ys}
    },
    plugins: [frame]
  });
}

const padL = (top, bottom) => ({left: 0, right: 517, top, bottom});
const padR = (top, bottom) => ({left: 526, right: 0, top, bottom});

// (a)
panel('pa', padL(21, 550),
  axis('bottom', 0, 2100, tTicks, fmt0), axis('left', -0.15, 0.15, abTicks, fmt2),
  [
    {data: series(tBeta, betaVals), showLine: true, borderColor: '#8c8c8c', borderWidth: 1.5,
     borderDash: [1.6, 1.8], pointRadius: 0, tension: 0.3},
    {data: series(tAlpha, alphaVals), showLine: true, borderColor: '#808080', borderWidth: 2.2,
     pointRadius: 0, tension: 0.2},
    hline(0, 0, 2100),
    arrow(aArrows[0], -90), arrow(aArrows[1], -90)
  ],
  {xTitle: L_T, xTitleY: 266, yTitle: L_AB, yTitleX: 22, letter: '(a)', letterX: 22, letterY: 247});

// (b)
panel('pb', padR(21, 550),
  axis('bottom', -0.15, 0.15, abTicksRight, fmt2), axis('right', -0.15, 0.15, abTicks, fmt2),
  [
    ...bDots.map(p => dotted(p)),
    ...bCore.map(p => dotted(p, 1.9, 2.4, 0.3)),
    solid(bBlue, '#0000ff', 2), solid(bRed, '#e00000', 2), solid(bBlack, '#000', 2),
    arrow(bArrow, 90)
  ],
  {xTitle: L_ALPHA, xTitleY: 266, yTitle: L_BETA, yTitleX: 1022, letter: '(b)', letterX: 1012, letterY: 245});

// (c)
panel('pc', padL(284, 287),
  axis('bottom', -0.15, 0.15, abTicks, fmt2), axis('left', 0, 0.45, normTicks, fmt1),
  [
    ...cDots.map(p => dotted(p)),
    ...cCore.map(p => dotted(p, 1.9, 2.4, 0.3)),
    ...cLines.map(p => solid(p)),
    solid(cBlue, '#0000ff', 2), solid(cRed, '#e00000', 2), solid(cBlack, '#000', 2),
    arrow(cArrow, 0)
  ],
  {xTitle: L_BETA, xTitleY: 528, yTitle: L_NORM, yTitleX: 42, letter: '(c)', letterX: 22, letterY: 515});

// (d)
panel('pd', padR(284, 287),
  axis('bottom', -0.15, 0.15, abTicksRight, fmt2), axis('right', 0, 0.45, normTicks, fmt1),
  [
    ...dDots.map(p => dotted(p)),
    ...dCore.map(p => dotted(p, 1.9, 2.4, 0.3)),
    ...dLines.map(p => solid(p)),
    solid(dLoopBlue, '#0000ff', 2), solid(dLoopRed, '#e00000', 2.2), solid(dLoopBlack, '#000', 2),
    arrow(dArrow, 180)
  ],
  {xTitle: L_ALPHA, xTitleY: 528, yTitle: L_NORM, yTitleX: 996, letter: '(d)', letterX: 1012, letterY: 515});

// (e)
panel('pe', padL(548, 24),
  axis('bottom', 0, 2100, tTicks, fmt0), axis('left', 0, 2, dTicks, fmt1),
  [
    hline(1, 0, 2100),
    {data: series(tD, dBlue), showLine: true, borderColor: '#0000ff', borderWidth: 2, pointRadius: 0, tension: 0.3},
    {data: series(tD, dRed), showLine: true, borderColor: '#e00000', borderWidth: 2, pointRadius: 0, tension: 0.3},
    {data: series(tD, dBlack), showLine: true, borderColor: '#000', borderWidth: 2, pointRadius: 0, tension: 0.3},
    arrow(eArrow, 0)
  ],
  {xTitle: L_T, xTitleY: 790, yTitle: L_D, yTitleX: 52, letter: '(e)', letterX: 22, letterY: 788});

// (f)
panel('pf', padR(548, 24),
  axis('bottom', -0.15, 0.15, abTicksRight, fmt2), axis('right', 0, 0.45, normTicks, fmt1),
  [
    ...fSparse.map(p => dotted(p, 13)),
    ...fDots.map(p => dotted(p, 3.2)),
    ...fBands.map(p => solid(p, GRAY, 1.8)),
    ...fLines.map(p => solid(p)),
    solid(dLoopBlue, '#0000ff', 2), solid(dLoopRed, '#e00000', 2.2), solid(dLoopBlack, '#000', 2)
  ],
  {xTitle: L_ALPHA, xTitleY: 792, yTitle: L_NORM, yTitleX: 997, letter: '(f)', letterX: 1012, letterY: 790});
</script>
</body>
</html>
